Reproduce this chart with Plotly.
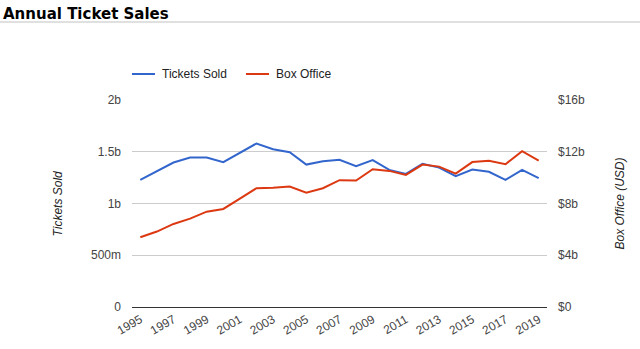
import plotly.graph_objects as go

years = list(range(1995, 2020))
tickets_sold_b = [1.228, 1.315, 1.396, 1.444, 1.444, 1.400, 1.486, 1.580, 1.525, 1.496,
                  1.376, 1.409, 1.422, 1.361, 1.419, 1.325, 1.286, 1.383, 1.347, 1.264,
                  1.328, 1.306, 1.228, 1.325, 1.245]
box_office_b = [5.39, 5.83, 6.42, 6.83, 7.37, 7.58, 8.38, 9.18, 9.21, 9.31,
                8.84, 9.18, 9.80, 9.77, 10.65, 10.52, 10.21, 11.01, 10.85, 10.31,
                11.20, 11.30, 11.04, 12.05, 11.32]

left_tickvals = [0, 0.5, 1, 1.5, 2]
left_ticktext = ["0", "500m", "1b", "1.5b", "2b"]
right_tickvals = [0, 4, 8, 12, 16]
right_ticktext = ["$0", "$4b", "$8b", "$12b", "$16b"]
x_tickvals = list(range(1995, 2020, 2))

BLUE = "#3366cc"
RED = "#dc3912"

W, H = 640, 349
L, R, T, B = 132, 547, 100, 307
pw, ph = R - L, B - T

def px(x):
    return (x - L) / pw

def py(y):
    return (B - y) / ph

fig = go.Figure()
fig.add_trace(go.Scatter(x=years, y=tickets_sold_b, mode="lines", name="Tickets Sold",
                         line=dict(color=BLUE, width=2), yaxis="y"))
fig.add_trace(go.Scatter(x=years, y=box_office_b, mode="lines", name="Box Office",
                         line=dict(color=RED, width=2), yaxis="y2"))

tickfont = dict(family="Liberation Sans, Arial", size=12, color="#444")

fig.update_layout(
    width=W, height=H,
    margin=dict(l=L, r=W - R, t=T, b=H - B, pad=0),
    paper_bgcolor="white", plot_bgcolor="white",
    showlegend=False,
    title=dict(text="<b>Annual Ticket Sales</b>", xref="container", yref="container",
               x=3 / W, xanchor="left", y=1 - 14 / H, yanchor="middle",
               font=dict(family="DejaVu Sans", size=15, color="#000")),
    xaxis=dict(range=[1994.5, 2019.5], tickvals=x_tickvals, ticktext=[str(v) for v in x_tickvals],
               tickangle=-30, tickfont=tickfont, showgrid=False, zeroline=False,
               showline=True, linecolor="#333", linewidth=1, ticks="", fixedrange=True),
    yaxis=dict(range=[0, 2], tickvals=left_tickvals, ticktext=left_ticktext, tickfont=tickfont,
               showgrid=True, gridcolor="#cccccc", gridwidth=1, zeroline=False,
               ticks="", ticklabelstandoff=10),
    yaxis2=dict(range=[0, 16], tickvals=right_tickvals, ticktext=right_ticktext, tickfont=tickfont,
                overlaying="y", side="right", showgrid=False, zeroline=False,
                ticks="", ticklabelstandoff=10),
    font=dict(family="Liberation Sans, Arial", size=12, color="#222"),
)

# title underline
fig.add_shape(type="line", xref="paper", yref="paper", x0=px(0), x1=px(W), y0=py(22), y1=py(22),
              line=dict(color="#e0e0e0", width=2))

# manual legend
ly = py(74)
fig.add_shape(type="line", xref="paper", yref="paper", x0=px(132), x1=px(155), y0=ly, y1=ly,
              line=dict(color=BLUE, width=2))
fig.add_shape(type="line", xref="paper", yref="paper", x0=px(246), x1=px(269), y0=ly, y1=ly,
              line=dict(color=RED, width=2))
legfont = dict(family="Liberation Sans, Arial", size=12, color="#222")
fig.add_annotation(text="Tickets Sold", xref="paper", yref="paper", x=px(160), y=ly,
                   xanchor="left", yanchor="middle", showarrow=False, font=legfont)
fig.add_annotation(text="Box Office", xref="paper", yref="paper", x=px(274), y=ly,
                   xanchor="left", yanchor="middle", showarrow=False, font=legfont)

# axis titles
titlefont = dict(family="Liberation Sans, Arial", size=12, color="#222")
fig.add_annotation(text="<i>Tickets Sold</i>", xref="paper", yref="paper", x=px(57), y=0.5,
                   xanchor="center", yanchor="middle", textangle=-90, showarrow=False, font=titlefont)
fig.add_annotation(text="<i>Box Office (USD)</i>", xref="paper", yref="paper", x=px(619), y=0.5,
                   xanchor="center", yanchor="middle", textangle=-90, showarrow=False, font=titlefont)

fig.write_html("out.html")
